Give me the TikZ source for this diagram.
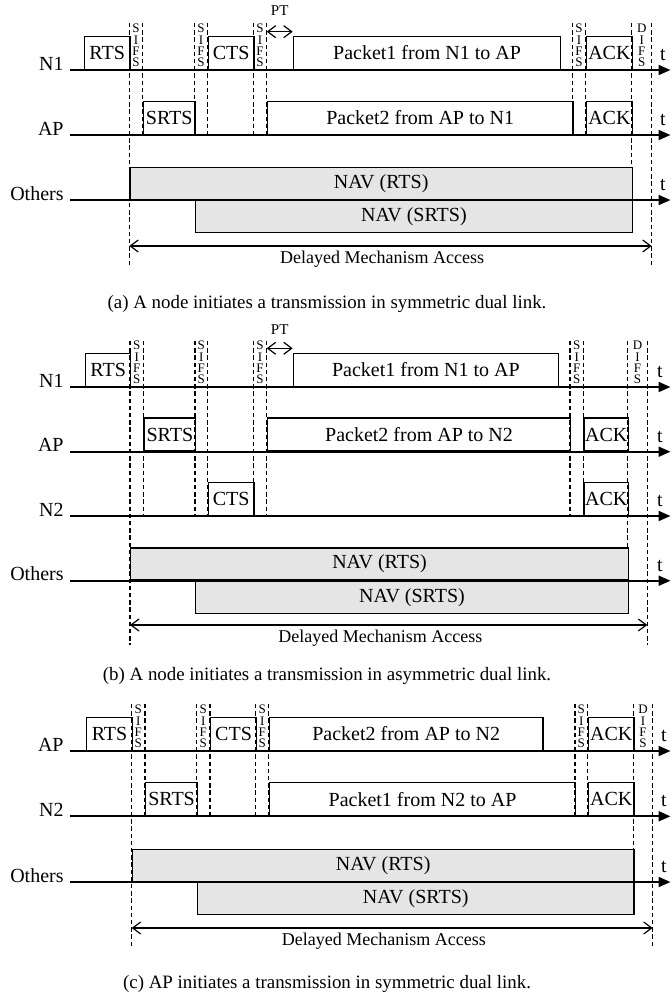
\documentclass[tikz,border=0pt]{standalone}
\usepackage{fontspec}
\setmainfont{Liberation Serif}
\usetikzlibrary{arrows.meta, positioning}

\begin{document}
\begin{tikzpicture}[
    x=0.5pt, y=-0.5pt,
    lane/.style={anchor=base east, inner sep=0pt, font=\fontsize{10}{12}\selectfont},
    timeline/.style={line width=1pt, -{Triangle[length=6pt, width=5pt]}},
    pkt/.style={
        rectangle,
        draw,
        line width=0.7pt,
        inner sep=0pt,
        minimum width=#1,
        minimum height=16.5pt,
        anchor=south west,
        font=\fontsize{10}{12}\selectfont
    },
    nav/.style={
        rectangle,
        draw,
        fill=gray!20,
        line width=0.7pt,
        inner sep=0pt,
        minimum width=#1,
        minimum height=16pt,
        font=\fontsize{10}{12}\selectfont
    },
    guide/.style={line width=0.75pt, dash pattern=on 2.2pt off 1.4pt},
    ifs/.style={anchor=south, inner sep=0pt, align=center, font=\fontsize{6.5}{5.6}\selectfont},
    tlab/.style={inner sep=0pt, font=\fontsize{10}{12}\selectfont},
    dur/.style={line width=0.6pt, {Straight Barb[length=4pt, width=6pt]}-{Straight Barb[length=4pt, width=6pt]}},
    note/.style={inner sep=0pt, font=\fontsize{7.5}{9}\selectfont},
    delay/.style={inner sep=0pt, font=\fontsize{9}{11}\selectfont},
    subcap/.style={inner sep=0pt, font=\fontsize{9.45}{11}\selectfont}
]
    \useasboundingbox (0,0) rectangle (671,998);

    % ---------- (a) N1 initiates, symmetric ----------
    % Guides
    \draw[guide] (129.3,23) -- (129.3,266);
    \draw[guide] (142.7,23) -- (142.7,135);
    \draw[guide] (194.3,23) -- (194.3,135);
    \draw[guide] (207.7,23) -- (207.7,135);
    \draw[guide] (253.3,23) -- (253.3,135);
    \draw[guide] (266.7,23) -- (266.7,135);
    \draw[guide] (572.3,23) -- (572.3,135);
    \draw[guide] (585.7,23) -- (585.7,135);
    \draw[guide] (631.7,23) -- (631.7,168);
    \draw[guide] (651.7,23) -- (651.7,266);

    % Inter-frame spaces
    \node[ifs] (s1a) at (136,67) {S\\I\\F\\S};
    \node[ifs] (s2a) at (201,67) {S\\I\\F\\S};
    \node[ifs] (s3a) at (260,67) {S\\I\\F\\S};
    \node[ifs] (s4a) at (579,67) {S\\I\\F\\S};
    \node[ifs] (d1a) at (641.7,67) {D\\I\\F\\S};

    % Frames
    \node[pkt=22.8pt] (rtsa) at (83.7,70) {RTS};
    \node[pkt=25.8pt] (srtsa) at (142.7,135) {SRTS};
    \node[pkt=22.8pt] (ctsa) at (207.7,70) {CTS};
    \node[pkt=133.65pt] (pk1a) at (292.7,70) {Packet1 from N1 to AP};
    \node[pkt=152.8pt] (pk2a) at (266.7,135) {Packet2 from AP to N1};
    \node[pkt=23pt] (ack1a) at (585.7,70) {ACK};
    \node[pkt=23pt] (ack2a) at (585.7,135) {ACK};
    \node[nav=251.2pt, anchor=south west] (nava) at (129.3,200) {NAV (RTS)};
    \node[nav=218.5pt, anchor=north west] (navsa) at (194.7,200) {NAV (SRTS)};

    % Timelines
    \coordinate (enda) at (670.5,0);
    \node[lane] (n1a) at (64,70) {N1};
    \node[lane] (apa) at (64,135) {AP};
    \node[lane] (ota) at (64,200) {Others};
    \draw[timeline] ([xshift=3pt]n1a.base east) -- (n1a.base east -| enda);
    \draw[timeline] ([xshift=3pt]apa.base east) -- (apa.base east -| enda);
    \draw[timeline] ([xshift=3pt]ota.base east) -- (ota.base east -| enda);
    \node[tlab] (t1a) at (663,55) {t};
    \node[tlab] (t2a) at (663,120) {t};
    \node[tlab] (t3a) at (663,185) {t};

    % Processing time and access span
    \node[note] (pta) at (279.7,11) {PT};
    \coordinate (ptla) at (266.7,31.7);
    \draw[dur] (ptla) -- (ptla -| pk1a.west);
    \coordinate (dla) at (129.3,246);
    \coordinate (dra) at (651.7,246);
    \draw[dur] (dla) -- node[delay, pos=0.484, yshift=-6.8pt] (dma) {Delayed Mechanism Access} (dra);

    \node[subcap] (capa) at (327,304) {(a) A node initiates a transmission in symmetric dual link.};

    % ---------- (b) N1 initiates, asymmetric ----------
    % Guides
    \draw[guide] (130,341) -- (130,645);
    \draw[guide] (143.3,341) -- (143.3,516);
    \draw[guide] (195,341) -- (195,516);
    \draw[guide] (207.7,341) -- (207.7,516);
    \draw[guide] (253.3,341) -- (253.3,516);
    \draw[guide] (266.7,341) -- (266.7,516);
    \draw[guide] (570,341) -- (570,516);
    \draw[guide] (583.3,341) -- (583.3,516);
    \draw[guide] (627.7,341) -- (627.7,548);
    \draw[guide] (647.3,341) -- (647.3,645);

    % Inter-frame spaces
    \node[ifs] (s1b) at (136.7,384) {S\\I\\F\\S};
    \node[ifs] (s2b) at (201.3,384) {S\\I\\F\\S};
    \node[ifs] (s3b) at (260,384) {S\\I\\F\\S};
    \node[ifs] (s4b) at (576.7,384) {S\\I\\F\\S};
    \node[ifs] (d1b) at (637.5,384) {D\\I\\F\\S};

    % Frames
    \node[pkt=22.5pt] (rtsb) at (85,387) {RTS};
    \node[pkt=25.85pt] (srtsb) at (143.3,451.7) {SRTS};
    \node[pkt=22.8pt] (ctsb) at (207.7,516) {CTS};
    \node[pkt=132.5pt] (pk1b) at (292.7,387) {Packet1 from N1 to AP};
    \node[pkt=151.65pt] (pk2b) at (266.7,451.7) {Packet2 from AP to N2};
    \node[pkt=22.2pt] (ack1b) at (583.3,451.7) {ACK};
    \node[pkt=22.2pt] (ack2b) at (583.3,516) {ACK};
    \node[nav=248.85pt, anchor=south west] (navb) at (130,580.7) {NAV (RTS)};
    \node[nav=216.35pt, anchor=north west] (navsb) at (195,580.7) {NAV (SRTS)};

    % Timelines
    \coordinate (endb) at (670.5,0);
    \node[lane] (n1b) at (64,387) {N1};
    \node[lane] (apb) at (64,451.7) {AP};
    \node[lane] (n2b) at (64,516) {N2};
    \node[lane] (otb) at (64,580.7) {Others};
    \draw[timeline] ([xshift=3pt]n1b.base east) -- (n1b.base east -| endb);
    \draw[timeline] ([xshift=3pt]apb.base east) -- (apb.base east -| endb);
    \draw[timeline] ([xshift=3pt]n2b.base east) -- (n2b.base east -| endb);
    \draw[timeline] ([xshift=3pt]otb.base east) -- (otb.base east -| endb);
    \node[tlab] (t1b) at (660,372) {t};
    \node[tlab] (t2b) at (660,437) {t};
    \node[tlab] (t3b) at (660,501) {t};
    \node[tlab] (t4b) at (660,566) {t};

    % Processing time and access span
    \node[note] (ptb) at (279.7,330) {PT};
    \coordinate (ptlb) at (266.7,348.3);
    \draw[dur] (ptlb) -- (ptlb -| pk1b.west);
    \coordinate (dlb) at (130,625);
    \coordinate (drb) at (647.3,625);
    \draw[dur] (dlb) -- node[delay, pos=0.484, yshift=-6.8pt] (dmb) {Delayed Mechanism Access} (drb);

    \node[subcap] (capb) at (327,676) {(b) A node initiates a transmission in asymmetric dual link.};

    % ---------- (c) AP initiates, symmetric ----------
    % Guides
    \draw[guide] (131.7,704) -- (131.7,947);
    \draw[guide] (145,704) -- (145,816.3);
    \draw[guide] (196.7,704) -- (196.7,816.3);
    \draw[guide] (210,704) -- (210,816.3);
    \draw[guide] (255.7,704) -- (255.7,816.3);
    \draw[guide] (268.7,704) -- (268.7,816.3);
    \draw[guide] (575,704) -- (575,816.3);
    \draw[guide] (587.7,704) -- (587.7,816.3);
    \draw[guide] (633.3,704) -- (633.3,849.5);
    \draw[guide] (652.7,704) -- (652.7,947);

    % Inter-frame spaces
    \node[ifs] (s1c) at (138.3,748) {S\\I\\F\\S};
    \node[ifs] (s2c) at (203.3,748) {S\\I\\F\\S};
    \node[ifs] (s3c) at (262.2,748) {S\\I\\F\\S};
    \node[ifs] (s4c) at (581.3,748) {S\\I\\F\\S};
    \node[ifs] (d1c) at (643,748) {D\\I\\F\\S};

    % Frames
    \node[pkt=22.85pt] (rtsc) at (86,751) {RTS};
    \node[pkt=25.85pt] (srtsc) at (145,816.3) {SRTS};
    \node[pkt=22.85pt] (ctsc) at (210,751) {CTS};
    \node[pkt=136.8pt] (pk2c) at (268.7,751) {Packet2 from AP to N2};
    \node[pkt=153.15pt] (pk1c) at (268.7,816.3) {Packet1 from N2 to AP};
    \node[pkt=22.8pt] (ack1c) at (587.7,751) {ACK};
    \node[pkt=22.8pt] (ack2c) at (587.7,816.3) {ACK};
    \node[nav=250.8pt, anchor=south west] (navc) at (131.7,882) {NAV (RTS)};
    \node[nav=218.3pt, anchor=north west] (navsc) at (196.7,882) {NAV (SRTS)};

    % Timelines
    \coordinate (endc) at (670.5,0);
    \node[lane] (apc) at (64,751) {AP};
    \node[lane] (n2c) at (64,816.3) {N2};
    \node[lane] (otc) at (64,882) {Others};
    \draw[timeline] ([xshift=3pt]apc.base east) -- (apc.base east -| endc);
    \draw[timeline] ([xshift=3pt]n2c.base east) -- (n2c.base east -| endc);
    \draw[timeline] ([xshift=3pt]otc.base east) -- (otc.base east -| endc);
    \node[tlab] (t1c) at (664,736) {t};
    \node[tlab] (t2c) at (664,801) {t};
    \node[tlab] (t3c) at (664,867) {t};

    % Access span
    \coordinate (dlc) at (131.7,928);
    \coordinate (drc) at (652.7,928);
    \draw[dur] (dlc) -- node[delay, pos=0.484, yshift=-6.8pt] (dmc) {Delayed Mechanism Access} (drc);

    \node[subcap] (capc) at (327,984) {(c) AP initiates a transmission in symmetric dual link.};
\end{tikzpicture}
\end{document}
